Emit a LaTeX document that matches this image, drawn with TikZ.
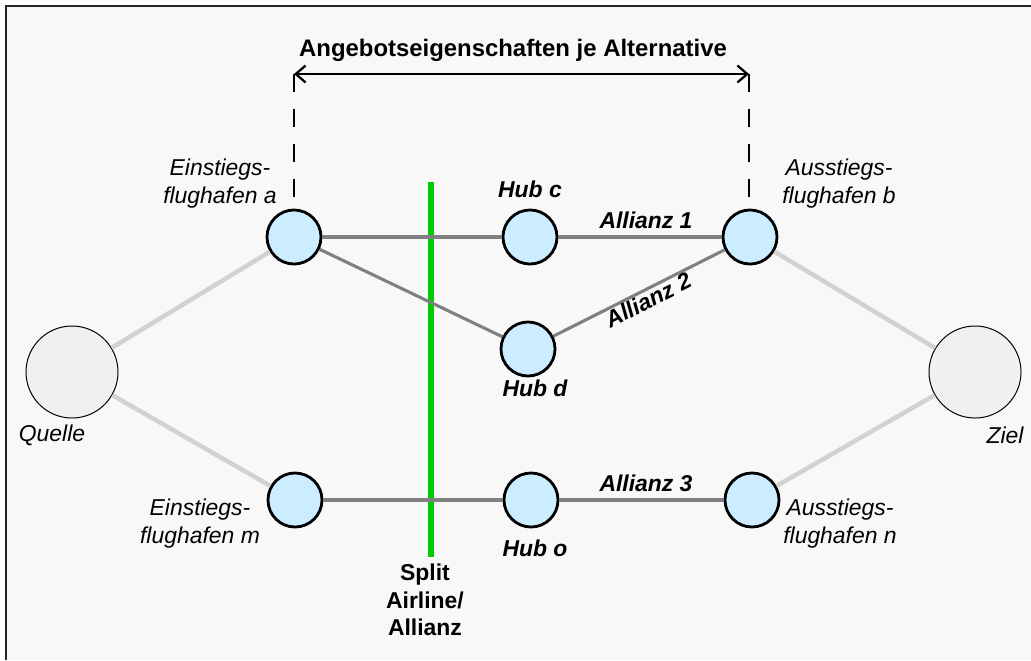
\documentclass[tikz,border=0pt]{standalone}
\usepackage{fontspec}
\setmainfont{Liberation Sans}
\usepackage{tikz}
\usetikzlibrary{arrows.meta}

\definecolor{hubblue}{RGB}{204,236,255}
\definecolor{endgrey}{RGB}{240,240,240}
\definecolor{bggrey}{RGB}{248,248,248}
\definecolor{feedgrey}{RGB}{210,210,210}
\definecolor{leggrey}{RGB}{128,128,128}
\definecolor{splitgreen}{RGB}{0,204,0}

\begin{document}
\begin{tikzpicture}[x=0.025cm,y=-0.025cm,
    hub/.style={circle,draw=black,line width=2pt,fill=hubblue,minimum size=1.35cm,inner sep=0pt},
    endpt/.style={circle,draw=black,line width=0.7pt,fill=endgrey,minimum size=2.3cm,inner sep=0pt},
    feeder/.style={line width=3.2pt,color=feedgrey},
    leg/.style={line width=2.2pt,color=leggrey},
    lbl/.style={font=\fontsize{16.3}{19.9}\selectfont\itshape,align=center,inner sep=0pt},
    hublbl/.style={font=\fontsize{16.3}{19.9}\selectfont\bfseries\itshape,inner sep=0pt},
    boldlbl/.style={font=\fontsize{16.3}{19.5}\selectfont\bfseries,align=center,inner sep=0pt}]
    \useasboundingbox (0,0) rectangle (1031,660);
    \fill[bggrey] (6,6) rectangle (1031,660);
    \draw[line width=1.4pt,black!85] (6,660) -- (6,6) -- (1031,6);

    % airports, hubs, source and sink
    \node[endpt] (quelle) at (72,372) {};
    \node[endpt] (ziel) at (975,372) {};
    \node[hub] (a) at (294,237) {};
    \node[hub] (c) at (530,237) {};
    \node[hub] (b) at (750,237) {};
    \node[hub] (d) at (528,349) {};
    \node[hub] (m) at (295,500) {};
    \node[hub] (o) at (531,500) {};
    \node[hub] (n) at (752,500) {};

    %Following lines are for the split
    \coordinate (splittop) at (431,182);
    \coordinate (splitbot) at (431,557);
    \draw[splitgreen,line width=4.3pt] (splittop) -- (splitbot);
    \node[boldlbl] (split) at (425,600) {Split\\Airline/\\Allianz};

    \draw[feeder] (quelle) -- (a);
    \draw[feeder] (quelle) -- (m);
    \draw[feeder] (b) -- (ziel);
    \draw[feeder] (n) -- (ziel);

    \draw[leg] (a) -- (c);
    \draw[leg] (c) -- (b);
    \draw[leg] (a) -- (d);
    \draw[leg] (d) -- (b);
    \draw[leg] (m) -- (o);
    \draw[leg] (o) -- (n);

    % offer span
    \coordinate (pa) at (294,74);
    \coordinate (pb) at (749,74);
    \coordinate (qa) at (294,200);
    \coordinate (qb) at (749,200);
    \draw[line width=1pt,dash pattern=on 12.8pt off 12pt] (pa) -- (qa);
    \draw[line width=1pt,dash pattern=on 12.8pt off 12pt] (pb) -- (qb);
    \draw[line width=1pt,{Straight Barb[length=7pt,width=12pt,line width=1.6pt]}-{Straight Barb[length=7pt,width=12pt,line width=1.6pt]}] (pa) -- (pb);
    \node[boldlbl,font=\fontsize{17}{20}\selectfont\bfseries] (title) at (513,50) {Angebotseigenschaften je Alternative};

    \node[lbl] (la) at (220,184) {Einstiegs-\\flughafen a};
    \node[lbl] (lb) at (839,184) {Ausstiegs-\\flughafen b};
    \node[lbl] (lm) at (200,524) {Einstiegs-\\flughafen m};
    \node[lbl] (ln) at (840,524) {Ausstiegs-\\flughafen n};
    \node[lbl] (lquelle) at (52,435) {Quelle};
    \node[lbl] (lziel) at (1005,435) {Ziel};

    \node[hublbl] (lc) at (530,189) {Hub c};
    \node[hublbl] (ld) at (535,388) {Hub d};
    \node[hublbl] (lo) at (535,548) {Hub o};
    \node[hublbl] (al1) at (646,220) {Allianz 1};
    \node[hublbl,rotate=27] (al2) at (648,300) {Allianz 2};
    \node[hublbl] (al3) at (646,483) {Allianz 3};
\end{tikzpicture}
\end{document}
